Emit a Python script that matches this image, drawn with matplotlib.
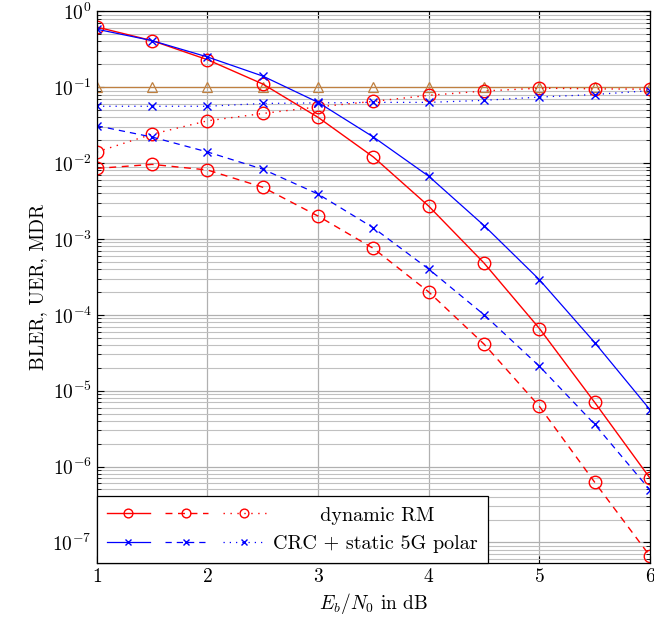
import matplotlib
matplotlib.use("Agg")
import matplotlib.pyplot as plt
from matplotlib.legend_handler import HandlerTuple
from matplotlib.ticker import LogFormatterMathtext, NullFormatter

plt.rcParams['font.family'] = 'cmr10'
plt.rcParams['mathtext.fontset'] = 'cm'
plt.rcParams['axes.unicode_minus'] = False
plt.rcParams['axes.formatter.use_mathtext'] = True

ebn0 = [1, 1.5, 2, 2.5, 3, 3.5, 4, 4.5, 5, 5.5, 6]

rm_bler = [0.62, 0.41, 0.23, 0.11, 0.04, 0.012, 0.0027, 4.8e-4, 6.6e-5, 7e-6, 7e-7]
rm_uer = [0.0085, 0.0096, 0.0081, 0.0048, 0.002, 7.5e-4, 2e-4, 4.1e-5, 6.2e-6, 6.2e-7, 6.6e-8]
rm_mdr = [0.014, 0.024, 0.036, 0.045, 0.055, 0.065, 0.078, 0.089, 0.097, 0.095, 0.094]

polar_bler = [0.58, 0.41, 0.25, 0.14, 0.063, 0.022, 0.0067, 1.5e-3, 2.9e-4, 4.3e-5, 5.6e-6]
polar_uer = [0.031, 0.022, 0.014, 0.0083, 0.0039, 0.0014, 4e-4, 1e-4, 2.1e-5, 3.6e-6, 4.9e-7]
polar_mdr = [0.056, 0.056, 0.056, 0.061, 0.062, 0.063, 0.063, 0.067, 0.074, 0.08, 0.09]

mdr_target = [0.1] * len(ebn0)

labels = ['       dynamic RM', 'CRC + static 5G polar']

red = (1, 0, 0)
blue = (0, 0, 1)
brown = (0.75, 0.5, 0.25)

fig = plt.figure(figsize=(6.54, 6.26), dpi=100)
ax = fig.add_axes([0.148, 0.101, 0.846, 0.881])

circ = dict(marker='o', markersize=9, markerfacecolor='none', markeredgewidth=1.0, color=red, linewidth=1.0)
cross = dict(marker='x', markersize=6, markeredgewidth=1.0, color=blue, linewidth=0.9)

ax.plot(ebn0, mdr_target, color=brown, marker='^', markersize=7, markerfacecolor='none',
        linewidth=0.9, markeredgewidth=0.9)

r1, = ax.plot(ebn0, rm_bler, linestyle='-', **circ)
r2, = ax.plot(ebn0, rm_uer, linestyle=(0, (5, 4)), **circ)
r3, = ax.plot(ebn0, rm_mdr, linestyle=(0, (1, 4)), **circ)
b1, = ax.plot(ebn0, polar_bler, linestyle='-', **cross)
b2, = ax.plot(ebn0, polar_uer, linestyle=(0, (5, 4)), **cross)
b3, = ax.plot(ebn0, polar_mdr, linestyle=(0, (1, 4)), **cross)

ax.set_yscale('log')
ax.set_xlim(1, 6)
ax.set_ylim(5.4e-8, 1)
ax.set_xticks([1, 2, 3, 4, 5, 6])
# fixed ticks, only inside the visible range
major = [10.0 ** e for e in range(-7, 1)]
minor = [m * 10.0 ** e for e in range(-8, 0) for m in range(2, 10) if 5.4e-8 <= m * 10.0 ** e <= 1]
ax.set_yticks(major)
ax.set_yticks(minor, minor=True)
ax.yaxis.set_major_formatter(LogFormatterMathtext())
ax.yaxis.set_minor_formatter(NullFormatter())

ax.grid(True, which='major', color='#b0b0b0', linewidth=0.9)
ax.grid(True, which='minor', axis='y', color='#c0c0c0', linewidth=0.8)
ax.set_axisbelow(True)
ax.tick_params(direction='in', which='both', labelsize=14, top=True, right=True)
ax.tick_params(which='major', length=5)
ax.tick_params(which='minor', length=3)
for s in ax.spines.values():
    s.set_linewidth(0.9)

ax.set_xlabel('$E_b/N_0$ in dB', fontsize=14)
ax.set_ylabel('BLER, UER, MDR', fontsize=14)

leg = ax.legend([(r1, r2, r3), (b1, b2, b3)], labels,
                handler_map={tuple: HandlerTuple(ndivide=None, pad=0.75)},
                loc='lower left', handlelength=7.9, handletextpad=0.35, fontsize=14.5,
                fancybox=False, edgecolor='black', framealpha=1, borderaxespad=0,
                markerscale=0.7, borderpad=0.5, labelspacing=0.5)
leg.get_frame().set_linewidth(0.9)

fig.savefig('out.png', dpi=100)
